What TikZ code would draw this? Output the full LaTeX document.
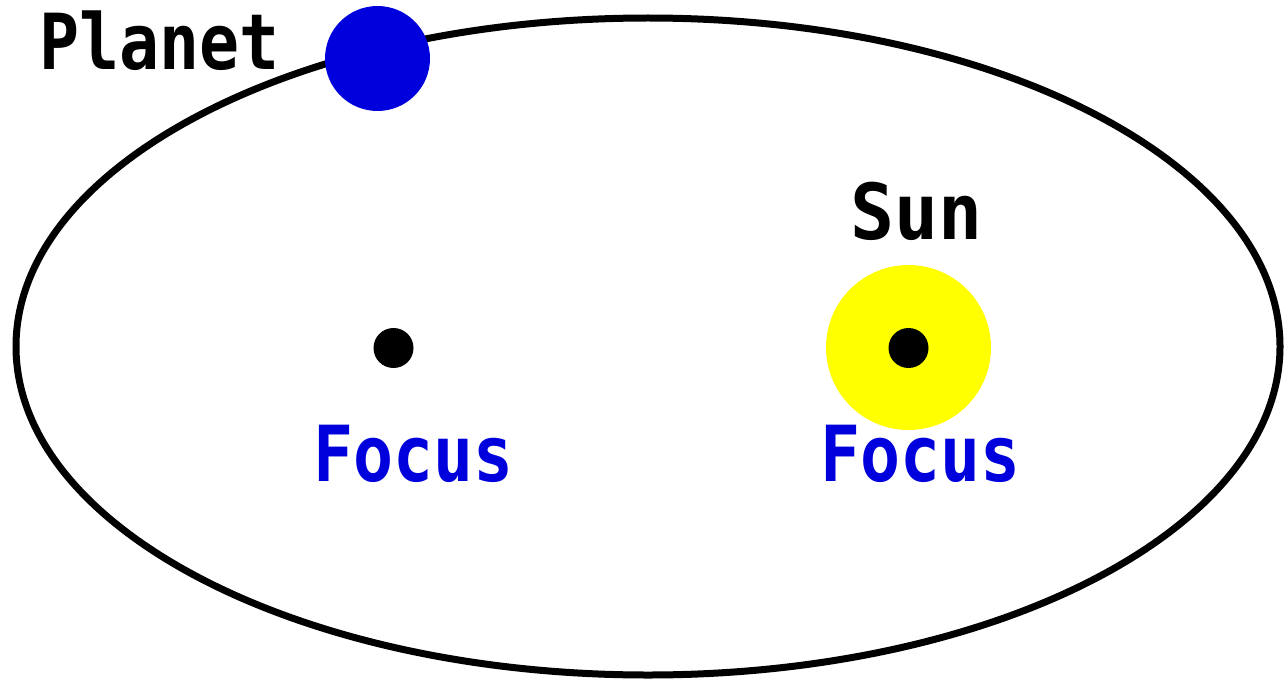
\documentclass[tikz,border=0pt]{standalone}
\usepackage{fontspec}
\setmonofont{DejaVu Sans Mono}
\definecolor{planetblue}{HTML}{0000DD}
\definecolor{sunyellow}{HTML}{FFFF00}
\tikzset{
  label text/.style={font=\ttfamily\bfseries\fontsize{44}{44}\selectfont, inner sep=0pt, anchor=base, xscale=0.86},
  focus dot/.style={circle, fill=black, inner sep=0pt, minimum size=0.8cm}
}
\begin{document}
\begin{tikzpicture}[x=0.02cm, y=-0.02cm]
\useasboundingbox (0,0) rectangle (1284,679);
\draw[line width=0.14cm] (648,346.5) ellipse [x radius=632, y radius=328.5];
\node[circle, fill=planetblue, inner sep=0pt, minimum size=2.1cm] (planet) at (377.5,58.5) {};
\node[circle, fill=sunyellow, inner sep=0pt, minimum size=3.3cm] (sun) at (908.5,347.5) {};
\node[focus dot] (focusA) at (393.5,348) {};
\node[focus dot] (focusB) at (908.5,348) {};
\node[label text] (planetlabel) at (159.5,70) {Planet};
\node[label text, xscale=1.1] (sunlabel) at (916.5,239) {Sun};
\node[label text, text=planetblue] (focusAlabel) at (413.5,481) {Focus};
\node[label text, text=planetblue] (focusBlabel) at (920.5,481) {Focus};
\end{tikzpicture}
\end{document}
